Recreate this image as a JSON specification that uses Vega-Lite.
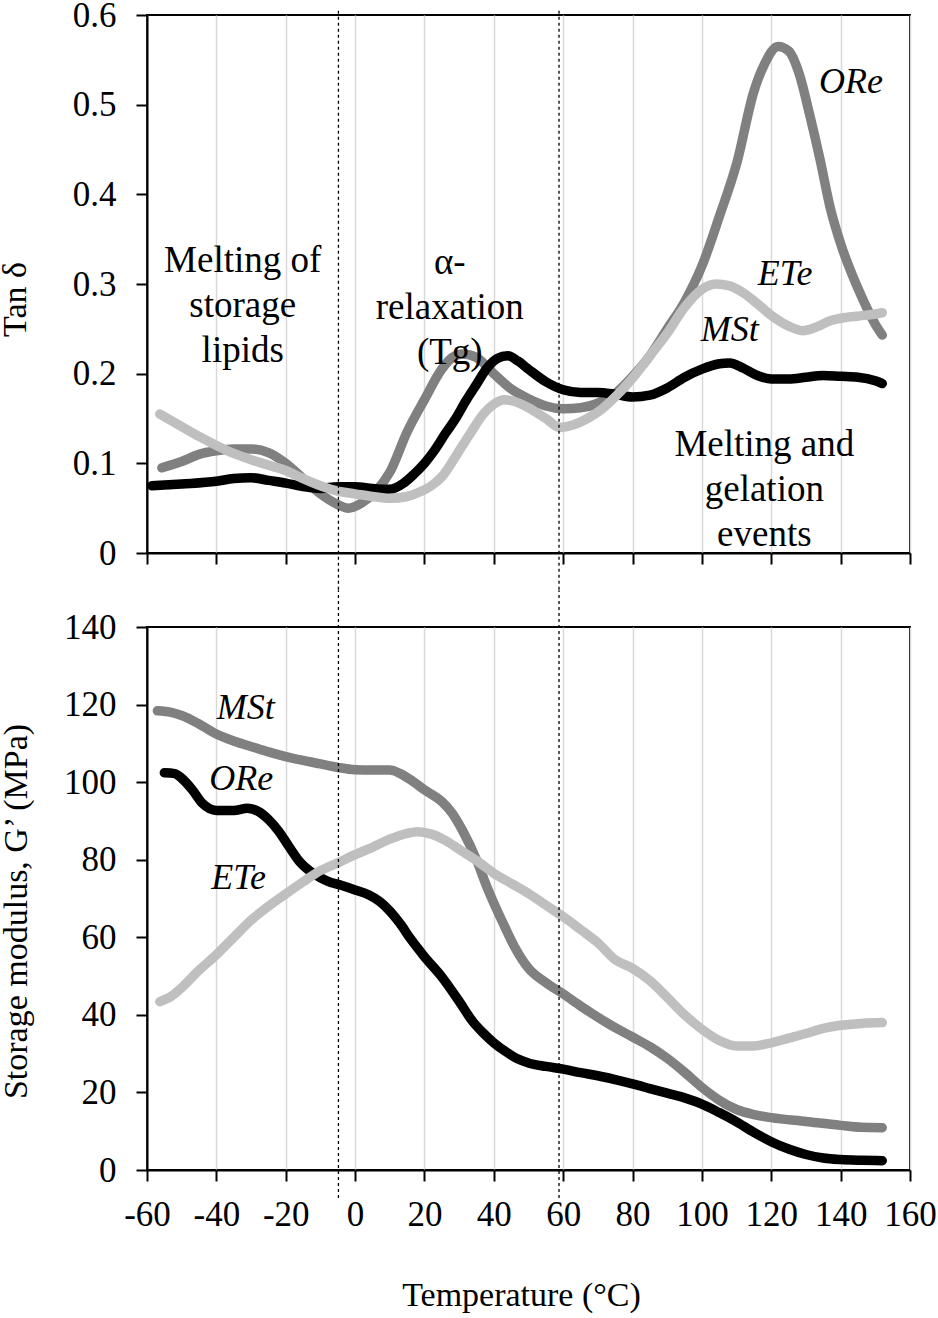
{
  "$schema": "https://vega.github.io/schema/vega-lite/v6.json",
  "padding": {"left": -3, "top": -3, "right": 0, "bottom": 0},
  "background": "white",
  "config": {
    "font": "Liberation Serif",
    "view": {"stroke": "black", "strokeWidth": 2},
    "axis": {
      "domainColor": "black", "domainWidth": 2,
      "tickColor": "black", "tickWidth": 2, "tickSize": 11,
      "labelFont": "Liberation Serif", "labelFontSize": 35, "labelColor": "black", "labelOverlap": false, "labelFlush": false,
      "titleFont": "Liberation Serif", "titleFontSize": 34, "titleFontWeight": "normal", "titleColor": "black",
      "grid": false
    }
  },
  "datasets": {
    "tan": [
      {"sample": "ORe", "T": -55.7, "tan": 0.095}, {"sample": "ORe", "T": -50, "tan": 0.102}, {"sample": "ORe", "T": -45, "tan": 0.110},
      {"sample": "ORe", "T": -40, "tan": 0.114}, {"sample": "ORe", "T": -35, "tan": 0.116}, {"sample": "ORe", "T": -30, "tan": 0.116},
      {"sample": "ORe", "T": -25, "tan": 0.112}, {"sample": "ORe", "T": -20, "tan": 0.100}, {"sample": "ORe", "T": -15, "tan": 0.083},
      {"sample": "ORe", "T": -10, "tan": 0.066}, {"sample": "ORe", "T": -5, "tan": 0.054}, {"sample": "ORe", "T": -2, "tan": 0.050},
      {"sample": "ORe", "T": 2, "tan": 0.056}, {"sample": "ORe", "T": 6, "tan": 0.069}, {"sample": "ORe", "T": 10, "tan": 0.090},
      {"sample": "ORe", "T": 15, "tan": 0.135}, {"sample": "ORe", "T": 20, "tan": 0.171}, {"sample": "ORe", "T": 25, "tan": 0.205},
      {"sample": "ORe", "T": 28, "tan": 0.218}, {"sample": "ORe", "T": 31, "tan": 0.222}, {"sample": "ORe", "T": 35, "tan": 0.218},
      {"sample": "ORe", "T": 40, "tan": 0.200}, {"sample": "ORe", "T": 45, "tan": 0.183}, {"sample": "ORe", "T": 50, "tan": 0.172},
      {"sample": "ORe", "T": 55, "tan": 0.164}, {"sample": "ORe", "T": 60, "tan": 0.161}, {"sample": "ORe", "T": 65, "tan": 0.162},
      {"sample": "ORe", "T": 70, "tan": 0.167}, {"sample": "ORe", "T": 75, "tan": 0.178}, {"sample": "ORe", "T": 80, "tan": 0.197},
      {"sample": "ORe", "T": 85, "tan": 0.220}, {"sample": "ORe", "T": 90, "tan": 0.250}, {"sample": "ORe", "T": 95, "tan": 0.280},
      {"sample": "ORe", "T": 100, "tan": 0.320}, {"sample": "ORe", "T": 105, "tan": 0.375}, {"sample": "ORe", "T": 110, "tan": 0.434},
      {"sample": "ORe", "T": 115, "tan": 0.515}, {"sample": "ORe", "T": 118, "tan": 0.545}, {"sample": "ORe", "T": 122, "tan": 0.565},
      {"sample": "ORe", "T": 125, "tan": 0.560}, {"sample": "ORe", "T": 128, "tan": 0.535}, {"sample": "ORe", "T": 131, "tan": 0.490},
      {"sample": "ORe", "T": 134, "tan": 0.440}, {"sample": "ORe", "T": 137, "tan": 0.385}, {"sample": "ORe", "T": 140, "tan": 0.345},
      {"sample": "ORe", "T": 145, "tan": 0.295}, {"sample": "ORe", "T": 150, "tan": 0.255}, {"sample": "ORe", "T": 152, "tan": 0.243},
      {"sample": "MSt", "T": -58.6, "tan": 0.075}, {"sample": "MSt", "T": -50, "tan": 0.077}, {"sample": "MSt", "T": -40, "tan": 0.080},
      {"sample": "MSt", "T": -35, "tan": 0.083}, {"sample": "MSt", "T": -30, "tan": 0.084}, {"sample": "MSt", "T": -25, "tan": 0.081},
      {"sample": "MSt", "T": -20, "tan": 0.078}, {"sample": "MSt", "T": -15, "tan": 0.074}, {"sample": "MSt", "T": -10, "tan": 0.072},
      {"sample": "MSt", "T": -5, "tan": 0.074}, {"sample": "MSt", "T": 0, "tan": 0.074}, {"sample": "MSt", "T": 5, "tan": 0.072},
      {"sample": "MSt", "T": 10, "tan": 0.071}, {"sample": "MSt", "T": 14, "tan": 0.078}, {"sample": "MSt", "T": 17, "tan": 0.088},
      {"sample": "MSt", "T": 20, "tan": 0.100}, {"sample": "MSt", "T": 23, "tan": 0.115}, {"sample": "MSt", "T": 26, "tan": 0.133},
      {"sample": "MSt", "T": 29, "tan": 0.150}, {"sample": "MSt", "T": 32, "tan": 0.170}, {"sample": "MSt", "T": 35, "tan": 0.188},
      {"sample": "MSt", "T": 38, "tan": 0.206}, {"sample": "MSt", "T": 41, "tan": 0.217}, {"sample": "MSt", "T": 44, "tan": 0.220},
      {"sample": "MSt", "T": 47, "tan": 0.214}, {"sample": "MSt", "T": 50, "tan": 0.205}, {"sample": "MSt", "T": 55, "tan": 0.191},
      {"sample": "MSt", "T": 60, "tan": 0.182}, {"sample": "MSt", "T": 65, "tan": 0.179}, {"sample": "MSt", "T": 70, "tan": 0.179},
      {"sample": "MSt", "T": 75, "tan": 0.177}, {"sample": "MSt", "T": 80, "tan": 0.174}, {"sample": "MSt", "T": 85, "tan": 0.176},
      {"sample": "MSt", "T": 90, "tan": 0.184}, {"sample": "MSt", "T": 95, "tan": 0.196}, {"sample": "MSt", "T": 100, "tan": 0.205},
      {"sample": "MSt", "T": 105, "tan": 0.211}, {"sample": "MSt", "T": 108, "tan": 0.212}, {"sample": "MSt", "T": 112, "tan": 0.206},
      {"sample": "MSt", "T": 116, "tan": 0.198}, {"sample": "MSt", "T": 120, "tan": 0.194}, {"sample": "MSt", "T": 125, "tan": 0.194},
      {"sample": "MSt", "T": 130, "tan": 0.196}, {"sample": "MSt", "T": 135, "tan": 0.198}, {"sample": "MSt", "T": 140, "tan": 0.197},
      {"sample": "MSt", "T": 145, "tan": 0.196}, {"sample": "MSt", "T": 150, "tan": 0.192}, {"sample": "MSt", "T": 152, "tan": 0.189},
      {"sample": "ETe", "T": -56.3, "tan": 0.155}, {"sample": "ETe", "T": -50, "tan": 0.141}, {"sample": "ETe", "T": -45, "tan": 0.130},
      {"sample": "ETe", "T": -40, "tan": 0.120}, {"sample": "ETe", "T": -35, "tan": 0.111}, {"sample": "ETe", "T": -30, "tan": 0.104},
      {"sample": "ETe", "T": -25, "tan": 0.098}, {"sample": "ETe", "T": -20, "tan": 0.092}, {"sample": "ETe", "T": -15, "tan": 0.083},
      {"sample": "ETe", "T": -10, "tan": 0.075}, {"sample": "ETe", "T": -5, "tan": 0.069}, {"sample": "ETe", "T": 0, "tan": 0.066},
      {"sample": "ETe", "T": 5, "tan": 0.063}, {"sample": "ETe", "T": 10, "tan": 0.061}, {"sample": "ETe", "T": 15, "tan": 0.063},
      {"sample": "ETe", "T": 18, "tan": 0.067}, {"sample": "ETe", "T": 22, "tan": 0.075}, {"sample": "ETe", "T": 25, "tan": 0.085},
      {"sample": "ETe", "T": 30, "tan": 0.114}, {"sample": "ETe", "T": 33, "tan": 0.132}, {"sample": "ETe", "T": 37, "tan": 0.155},
      {"sample": "ETe", "T": 40, "tan": 0.166}, {"sample": "ETe", "T": 43, "tan": 0.171}, {"sample": "ETe", "T": 46, "tan": 0.169},
      {"sample": "ETe", "T": 50, "tan": 0.162}, {"sample": "ETe", "T": 55, "tan": 0.150}, {"sample": "ETe", "T": 59, "tan": 0.140},
      {"sample": "ETe", "T": 63, "tan": 0.143}, {"sample": "ETe", "T": 67, "tan": 0.150}, {"sample": "ETe", "T": 71, "tan": 0.160},
      {"sample": "ETe", "T": 75, "tan": 0.174}, {"sample": "ETe", "T": 80, "tan": 0.195}, {"sample": "ETe", "T": 85, "tan": 0.220},
      {"sample": "ETe", "T": 90, "tan": 0.245}, {"sample": "ETe", "T": 95, "tan": 0.274}, {"sample": "ETe", "T": 100, "tan": 0.294},
      {"sample": "ETe", "T": 104, "tan": 0.300}, {"sample": "ETe", "T": 108, "tan": 0.298}, {"sample": "ETe", "T": 112, "tan": 0.290},
      {"sample": "ETe", "T": 116, "tan": 0.278}, {"sample": "ETe", "T": 120, "tan": 0.265}, {"sample": "ETe", "T": 125, "tan": 0.253},
      {"sample": "ETe", "T": 129, "tan": 0.248}, {"sample": "ETe", "T": 133, "tan": 0.252}, {"sample": "ETe", "T": 137, "tan": 0.259},
      {"sample": "ETe", "T": 142, "tan": 0.263}, {"sample": "ETe", "T": 147, "tan": 0.265}, {"sample": "ETe", "T": 152, "tan": 0.268}
    ],
    "modulus": [
      {"sample": "MSt", "T": -57, "G": 118.4}, {"sample": "MSt", "T": -53, "G": 118.0}, {"sample": "MSt", "T": -50, "G": 117.2},
      {"sample": "MSt", "T": -45, "G": 115.0}, {"sample": "MSt", "T": -40, "G": 112.4}, {"sample": "MSt", "T": -35, "G": 110.6},
      {"sample": "MSt", "T": -30, "G": 109.2}, {"sample": "MSt", "T": -25, "G": 107.8}, {"sample": "MSt", "T": -20, "G": 106.6},
      {"sample": "MSt", "T": -15, "G": 105.6}, {"sample": "MSt", "T": -10, "G": 104.7}, {"sample": "MSt", "T": -5, "G": 103.8},
      {"sample": "MSt", "T": 0, "G": 103.2}, {"sample": "MSt", "T": 5, "G": 103.1}, {"sample": "MSt", "T": 10, "G": 103.1},
      {"sample": "MSt", "T": 13, "G": 102.2}, {"sample": "MSt", "T": 16, "G": 100.6}, {"sample": "MSt", "T": 20, "G": 98.0},
      {"sample": "MSt", "T": 25, "G": 95.0}, {"sample": "MSt", "T": 28, "G": 92.0}, {"sample": "MSt", "T": 31, "G": 87.5},
      {"sample": "MSt", "T": 35, "G": 80.0}, {"sample": "MSt", "T": 38, "G": 73.0}, {"sample": "MSt", "T": 40, "G": 68.8},
      {"sample": "MSt", "T": 43, "G": 63.0}, {"sample": "MSt", "T": 46, "G": 57.5}, {"sample": "MSt", "T": 50, "G": 52.0},
      {"sample": "MSt", "T": 55, "G": 48.3}, {"sample": "MSt", "T": 60, "G": 45.4}, {"sample": "MSt", "T": 65, "G": 42.3},
      {"sample": "MSt", "T": 70, "G": 39.4}, {"sample": "MSt", "T": 75, "G": 36.7}, {"sample": "MSt", "T": 80, "G": 34.3},
      {"sample": "MSt", "T": 85, "G": 31.8}, {"sample": "MSt", "T": 90, "G": 28.8}, {"sample": "MSt", "T": 95, "G": 25.2},
      {"sample": "MSt", "T": 100, "G": 21.3}, {"sample": "MSt", "T": 105, "G": 18.0}, {"sample": "MSt", "T": 110, "G": 15.6},
      {"sample": "MSt", "T": 115, "G": 14.3}, {"sample": "MSt", "T": 120, "G": 13.5}, {"sample": "MSt", "T": 130, "G": 12.5},
      {"sample": "MSt", "T": 140, "G": 11.5}, {"sample": "MSt", "T": 146, "G": 11.0}, {"sample": "MSt", "T": 152, "G": 10.9},
      {"sample": "ORe", "T": -55, "G": 102.4}, {"sample": "ORe", "T": -52, "G": 102.2}, {"sample": "ORe", "T": -50, "G": 101.0},
      {"sample": "ORe", "T": -47, "G": 98.1}, {"sample": "ORe", "T": -44, "G": 94.5}, {"sample": "ORe", "T": -40, "G": 92.7},
      {"sample": "ORe", "T": -35, "G": 92.7}, {"sample": "ORe", "T": -31, "G": 93.3}, {"sample": "ORe", "T": -28, "G": 92.5},
      {"sample": "ORe", "T": -25, "G": 90.4}, {"sample": "ORe", "T": -22, "G": 87.3}, {"sample": "ORe", "T": -19, "G": 83.3},
      {"sample": "ORe", "T": -16, "G": 79.5}, {"sample": "ORe", "T": -12, "G": 76.4}, {"sample": "ORe", "T": -8, "G": 74.5},
      {"sample": "ORe", "T": -4, "G": 73.4}, {"sample": "ORe", "T": 0, "G": 72.2}, {"sample": "ORe", "T": 4, "G": 70.9},
      {"sample": "ORe", "T": 7, "G": 69.3}, {"sample": "ORe", "T": 10, "G": 66.8}, {"sample": "ORe", "T": 13, "G": 63.5},
      {"sample": "ORe", "T": 16, "G": 59.6}, {"sample": "ORe", "T": 20, "G": 55.0}, {"sample": "ORe", "T": 25, "G": 49.8},
      {"sample": "ORe", "T": 30, "G": 43.5}, {"sample": "ORe", "T": 34, "G": 38.2}, {"sample": "ORe", "T": 37, "G": 35.3},
      {"sample": "ORe", "T": 40, "G": 32.8}, {"sample": "ORe", "T": 44, "G": 30.2}, {"sample": "ORe", "T": 47, "G": 28.6},
      {"sample": "ORe", "T": 50, "G": 27.6}, {"sample": "ORe", "T": 55, "G": 26.7}, {"sample": "ORe", "T": 60, "G": 26.0},
      {"sample": "ORe", "T": 65, "G": 25.1}, {"sample": "ORe", "T": 70, "G": 24.3}, {"sample": "ORe", "T": 75, "G": 23.3},
      {"sample": "ORe", "T": 80, "G": 22.2}, {"sample": "ORe", "T": 85, "G": 21.0}, {"sample": "ORe", "T": 90, "G": 19.8},
      {"sample": "ORe", "T": 95, "G": 18.6}, {"sample": "ORe", "T": 100, "G": 17.0}, {"sample": "ORe", "T": 105, "G": 14.8},
      {"sample": "ORe", "T": 110, "G": 12.4}, {"sample": "ORe", "T": 115, "G": 9.7}, {"sample": "ORe", "T": 120, "G": 7.3},
      {"sample": "ORe", "T": 125, "G": 5.4}, {"sample": "ORe", "T": 130, "G": 4.0}, {"sample": "ORe", "T": 135, "G": 3.1},
      {"sample": "ORe", "T": 140, "G": 2.7}, {"sample": "ORe", "T": 146, "G": 2.5}, {"sample": "ORe", "T": 152, "G": 2.4},
      {"sample": "ETe", "T": -56.3, "G": 43.4}, {"sample": "ETe", "T": -53, "G": 44.8}, {"sample": "ETe", "T": -50, "G": 47.0},
      {"sample": "ETe", "T": -45, "G": 51.5}, {"sample": "ETe", "T": -40, "G": 55.5}, {"sample": "ETe", "T": -35, "G": 60.0},
      {"sample": "ETe", "T": -30, "G": 64.4}, {"sample": "ETe", "T": -25, "G": 68.0}, {"sample": "ETe", "T": -20, "G": 71.2},
      {"sample": "ETe", "T": -15, "G": 74.3}, {"sample": "ETe", "T": -10, "G": 77.2}, {"sample": "ETe", "T": -5, "G": 79.2},
      {"sample": "ETe", "T": 0, "G": 81.3}, {"sample": "ETe", "T": 5, "G": 83.2}, {"sample": "ETe", "T": 10, "G": 85.3},
      {"sample": "ETe", "T": 15, "G": 86.8}, {"sample": "ETe", "T": 18, "G": 87.2}, {"sample": "ETe", "T": 22, "G": 86.6},
      {"sample": "ETe", "T": 26, "G": 85.0}, {"sample": "ETe", "T": 30, "G": 82.7}, {"sample": "ETe", "T": 35, "G": 79.8},
      {"sample": "ETe", "T": 40, "G": 76.5}, {"sample": "ETe", "T": 45, "G": 73.9}, {"sample": "ETe", "T": 50, "G": 71.3},
      {"sample": "ETe", "T": 55, "G": 68.3}, {"sample": "ETe", "T": 60, "G": 65.3}, {"sample": "ETe", "T": 65, "G": 62.0},
      {"sample": "ETe", "T": 70, "G": 58.6}, {"sample": "ETe", "T": 75, "G": 54.2}, {"sample": "ETe", "T": 80, "G": 52.0},
      {"sample": "ETe", "T": 85, "G": 48.8}, {"sample": "ETe", "T": 90, "G": 44.5}, {"sample": "ETe", "T": 95, "G": 40.0},
      {"sample": "ETe", "T": 100, "G": 36.3}, {"sample": "ETe", "T": 105, "G": 33.4}, {"sample": "ETe", "T": 110, "G": 32.0},
      {"sample": "ETe", "T": 115, "G": 32.0}, {"sample": "ETe", "T": 120, "G": 32.8}, {"sample": "ETe", "T": 125, "G": 34.0},
      {"sample": "ETe", "T": 130, "G": 35.2}, {"sample": "ETe", "T": 135, "G": 36.5}, {"sample": "ETe", "T": 140, "G": 37.3},
      {"sample": "ETe", "T": 146, "G": 37.8}, {"sample": "ETe", "T": 152, "G": 38.0}
    ],
    "transitions": [{"T": -4.8}, {"T": 58.8}],
    "tanNotes": [
      {"T": -32.4, "tan": 0.326, "text": "Melting of\nstorage\nlipids"},
      {"T": 27.3, "tan": 0.323, "text": "α-\nrelaxation\n(Tg)"},
      {"T": 118, "tan": 0.121, "text": "Melting and\ngelation\nevents"}
    ],
    "tanSeries": [
      {"T": 143, "tan": 0.525, "text": "ORe"},
      {"T": 124, "tan": 0.311, "text": "ETe"},
      {"T": 108, "tan": 0.249, "text": "MSt"}
    ],
    "modulusSeries": [
      {"T": -31.5, "G": 119.2, "text": "MSt"},
      {"T": -32.8, "G": 100.8, "text": "ORe"},
      {"T": -33.6, "G": 75.4, "text": "ETe"}
    ]
  },
  "vconcat": [
    {
      "width": 763,
      "height": 538,
      "layer": [
        {
          "data": {"name": "tan"},
          "mark": {"type": "line", "strokeWidth": 9.5, "strokeCap": "round", "strokeJoin": "round", "interpolate": "monotone"},
          "encoding": {
            "x": {
              "field": "T", "type": "quantitative",
              "scale": {"domain": [-60, 160], "nice": false, "zero": false},
              "axis": {"values": [-60, -40, -20, 0, 20, 40, 60, 80, 100, 120, 140, 160], "labels": false, "title": null,
                       "grid": true, "gridColor": "#d9d9d9", "gridWidth": 1.5}
            },
            "y": {
              "field": "tan", "type": "quantitative",
              "scale": {"domain": [0, 0.6], "nice": false},
              "axis": {"values": [0, 0.1, 0.2, 0.3, 0.4, 0.5, 0.6], "labelExpr": "datum.value == 0 ? '0' : format(datum.value, '.1f')",
                       "labelPadding": 20, "title": "Tan δ", "titleX": -122, "titleY": 284, "titleBaseline": "alphabetic", "titleAlign": "center"}
            },
            "color": {"field": "sample", "type": "nominal",
                      "scale": {"domain": ["ORe", "MSt", "ETe"], "range": ["#808080", "#000000", "#bfbfbf"]}, "legend": null}
          }
        },
        {
          "data": {"name": "transitions"},
          "mark": {"type": "rule", "strokeDash": [3, 3], "strokeWidth": 1.3, "color": "black"},
          "encoding": {
            "x": {"field": "T", "type": "quantitative"},
            "y": {"datum": -0.041},
            "y2": {"datum": 0.606}
          }
        },
        {
          "data": {"name": "tanNotes"},
          "mark": {"type": "text", "lineBreak": "\n", "fontSize": 37, "lineHeight": 45, "align": "center", "baseline": "middle", "color": "black"},
          "encoding": {
            "x": {"field": "T", "type": "quantitative"},
            "y": {"field": "tan", "type": "quantitative"},
            "text": {"field": "text"}
          }
        },
        {
          "data": {"name": "tanSeries"},
          "mark": {"type": "text", "fontSize": 36, "fontStyle": "italic", "align": "center", "baseline": "middle", "color": "black"},
          "encoding": {
            "x": {"field": "T", "type": "quantitative"},
            "y": {"field": "tan", "type": "quantitative"},
            "text": {"field": "text"}
          }
        }
      ]
    },
    {
      "width": 763,
      "height": 543,
      "layer": [
        {
          "data": {"name": "modulus"},
          "mark": {"type": "line", "strokeWidth": 9.5, "strokeCap": "round", "strokeJoin": "round", "interpolate": "monotone"},
          "encoding": {
            "x": {
              "field": "T", "type": "quantitative",
              "scale": {"domain": [-60, 160], "nice": false, "zero": false},
              "axis": {"values": [-60, -40, -20, 0, 20, 40, 60, 80, 100, 120, 140, 160], "labelPadding": 16,
                       "labelExpr": "'' + datum.value",
                       "grid": true, "gridColor": "#d9d9d9", "gridWidth": 1.5,
                       "title": "Temperature (°C)", "titleX": 374, "titleY": 135, "titleBaseline": "alphabetic", "titleAlign": "center"}
            },
            "y": {
              "field": "G", "type": "quantitative",
              "scale": {"domain": [0, 140], "nice": false},
              "axis": {"values": [0, 20, 40, 60, 80, 100, 120, 140], "labelPadding": 20,
                       "title": "Storage modulus, G’ (MPa)", "titleX": -121, "titleY": 284, "titleBaseline": "alphabetic", "titleAlign": "center"}
            },
            "color": {"field": "sample", "type": "nominal",
                      "scale": {"domain": ["MSt", "ORe", "ETe"], "range": ["#808080", "#000000", "#bfbfbf"]}, "legend": null}
          }
        },
        {
          "data": {"name": "transitions"},
          "mark": {"type": "rule", "strokeDash": [3, 3], "strokeWidth": 1.3, "color": "black"},
          "encoding": {
            "x": {"field": "T", "type": "quantitative"},
            "y": {"datum": -7.2},
            "y2": {"datum": 149.5}
          }
        },
        {
          "data": {"name": "modulusSeries"},
          "mark": {"type": "text", "fontSize": 36, "fontStyle": "italic", "align": "center", "baseline": "middle", "color": "black"},
          "encoding": {
            "x": {"field": "T", "type": "quantitative"},
            "y": {"field": "G", "type": "quantitative"},
            "text": {"field": "text"}
          }
        }
      ]
    }
  ],
  "spacing": 74,
  "bounds": "flush",
  "resolve": {"scale": {"color": "independent"}}
}
